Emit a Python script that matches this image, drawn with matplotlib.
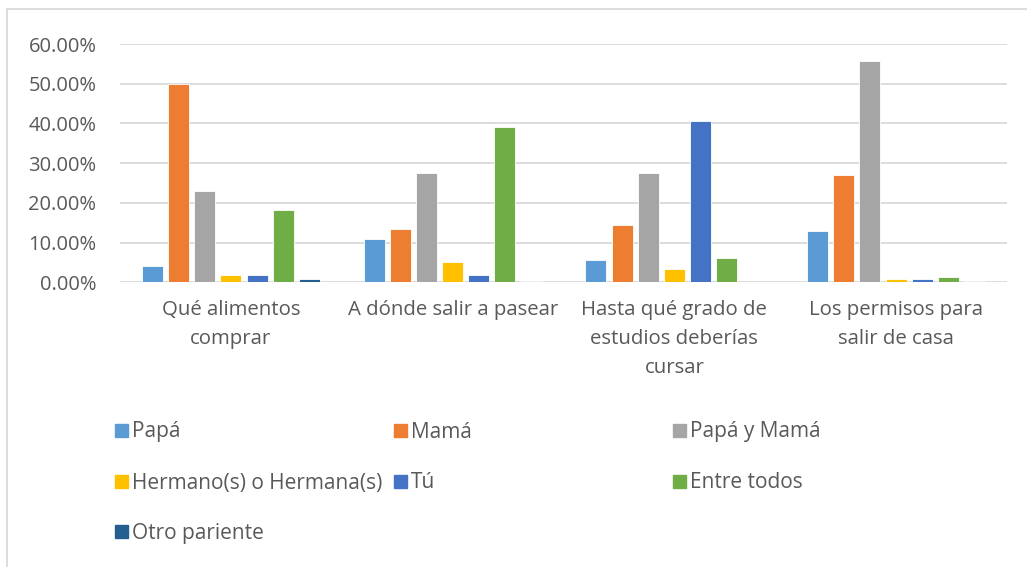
import numpy as np
import matplotlib
matplotlib.use('Agg')
import matplotlib.pyplot as plt
from matplotlib.lines import Line2D
from matplotlib.ticker import PercentFormatter

# --- ДАННЫЕ ---
categories = ['Qué alimentos\ncomprar', 'A dónde salir a pasear',
              'Hasta qué grado de\nestudios deberías\ncursar',
              'Los permisos para\nsalir de casa']
series = ['Papá', 'Mamá', 'Papá y Mamá', 'Hermano(s) o Hermana(s)',
          'Tú', 'Entre todos', 'Otro pariente']
papa = [4.2, 10.9, 5.6, 12.8]
mama = [49.9, 13.4, 14.4, 26.9]
papa_mama = [23.0, 27.4, 27.4, 55.6]
hermanos = [1.8, 5.2, 3.3, 0.8]
tu = [1.8, 1.8, 40.5, 0.8]
entre_todos = [18.1, 39.0, 6.1, 1.3]
otro = [0.8, 0.3, 0.0, 0.3]
values = [papa, mama, papa_mama, hermanos, tu, entre_todos, otro]

colors = ['#5B9BD5', '#ED7D31', '#A5A5A5', '#FFC000',
          '#4472C4', '#70AD47', '#255E91']
TEXT = '#595959'
FONT = 'Open Sans'

W, H = 1027, 567
fig = plt.figure(figsize=(W / 100, H / 100), dpi=100)
ax = fig.add_axes([120 / W, 1 - 282.3 / H, 887 / W, (282.3 - 44) / H])

x = np.arange(len(categories))
step, width = 0.118, 0.095
for j, (name, vals) in enumerate(zip(series, values)):
    ax.bar(x + (j - 3) * step, np.array(vals) / 100, width=width,
           color=colors[j], edgecolor='white', linewidth=0.6,
           label=name, zorder=3)

ax.set_xlim(-0.5, 3.5)
ax.set_ylim(0, 0.6)
ax.set_yticks(np.arange(0, 0.61, 0.1))
ax.yaxis.set_major_formatter(PercentFormatter(1.0, decimals=2))
ax.grid(axis='y', color='#D9D9D9', linewidth=1.3, zorder=0)
for s in ax.spines.values():
    s.set_visible(False)
ax.tick_params(axis='y', length=0, pad=17, labelsize=14.5, labelcolor=TEXT)
ax.tick_params(axis='x', length=0, pad=13, labelsize=14.7, labelcolor=TEXT)
ax.set_xticks(x)
ax.set_xticklabels(categories, fontfamily=FONT, linespacing=1.6, va='top')
for t in ax.get_yticklabels():
    t.set_fontfamily(FONT)

# --- ЛЕГЕНДА (вручную, 3 колонки) ---
col_x = [115, 394, 673]
row_y = [431, 482, 532]
for k, name in enumerate(series):
    cx = col_x[k % 3]
    cy = row_y[k // 3]
    fig.patches.append(plt.Rectangle((cx / W, 1 - (cy + 6) / H), 13 / W, 13 / H,
                                     transform=fig.transFigure,
                                     color=colors[k]))
    fig.text((cx + 17) / W, 1 - (cy + 1) / H, name, fontsize=15, color=TEXT,
             fontfamily=FONT, va='center', ha='left')

# рамка диаграммы
fig.add_artist(Line2D([7 / W, 7 / W], [0, 1 - 9 / H], color='#D9D9D9',
                      linewidth=1.3, transform=fig.transFigure))
fig.add_artist(Line2D([7 / W, 1], [1 - 9 / H, 1 - 9 / H], color='#D9D9D9',
                      linewidth=1.3, transform=fig.transFigure))

fig.savefig('out.png', dpi=100)
plt.close()
